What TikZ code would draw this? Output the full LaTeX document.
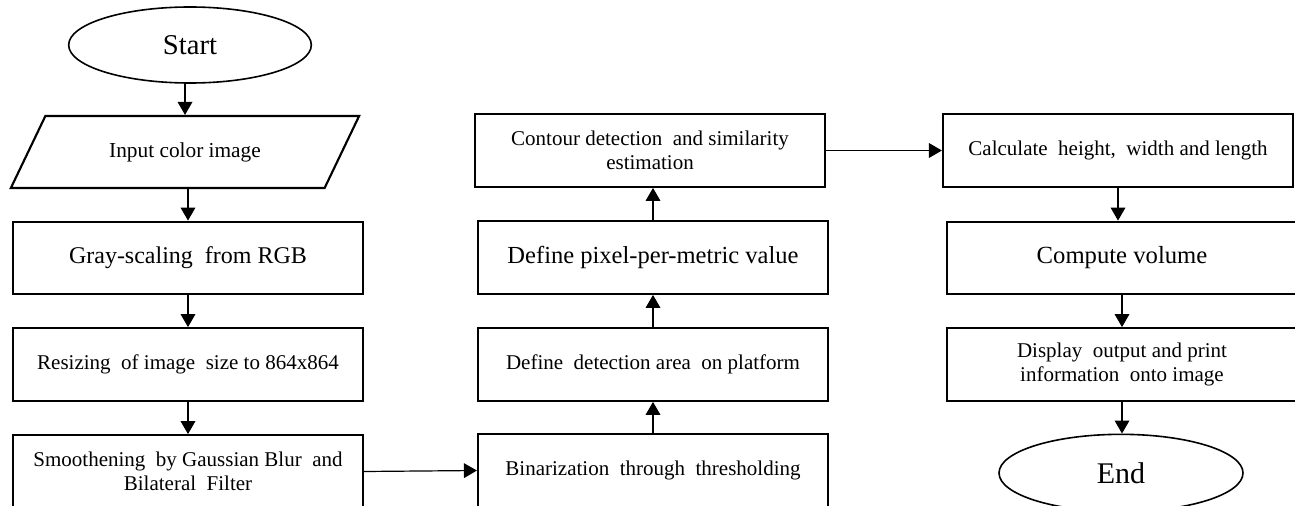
\documentclass[tikz,border=0pt]{standalone}
\usepackage{fontspec}
\setmainfont{Liberation Serif}
\usetikzlibrary{shapes.geometric,arrows.meta}
\begin{document}
\begin{tikzpicture}[x=0.75pt,y=-0.75pt,
  box/.style={draw,line width=1.6pt,rectangle,minimum width=262.5pt,minimum height=54.5pt,inner sep=0pt,align=center,font=\fontsize{15.75}{18}\selectfont},
  oval/.style={draw,line width=1.2pt,ellipse,inner sep=0pt,font=\fontsize{22.5}{24}\selectfont},
  arr/.style={line width=0.9pt,-{Triangle[length=9.75pt,width=11pt]}}]
\useasboundingbox (0,0) rectangle (1295,506);
\clip (0,0) rectangle (1295,506);
% column 1
\node[oval,minimum width=182pt,minimum height=57pt,font=\fontsize{21.5}{24}\selectfont] (start) at (190,45) {Start};
\node[draw,line width=1.6pt,trapezium,trapezium left angle=46,trapezium right angle=134,trapezium stretches=true,minimum width=261.75pt,minimum height=54pt,inner sep=0pt,font=\fontsize{16}{18}\selectfont] (input) at (185,152) {Input color image};
\node[box,font=\fontsize{18}{20}\selectfont] (gray) at (188,258) {Gray-scaling\ \ from RGB};
\node[box] (resize) at (188,364.5) {Resizing\ \ of image\ \ size to 864x864};
\node[box] (smooth) at (188,471.5) {Smoothening\ \ by Gaussian Blur\ \ and\\Bilateral\ \ Filter};
% column 2
\node[box] (contour) at (650,150.5) {Contour detection\ \ and similarity\\estimation};
\node[box,font=\fontsize{18.4}{21}\selectfont] (ppm) at (653,257.5) {Define pixel-per-metric value};
\node[box] (area) at (653,364.5) {Define\ \ detection area\ \ on platform};
\node[box] (binar) at (653,470.5) {Binarization\ \ through\ \ thresholding};
% column 3
\node[box] (calc) at (1118,150.5) {Calculate\ \ height,\ \ width and length};
\node[box,font=\fontsize{18.5}{21}\selectfont] (vol) at (1122,258) {Compute volume};
\node[box] (disp) at (1122,364.5) {Display\ \ output and print\\information\ \ onto image};
\node[oval,minimum width=183pt,minimum height=58pt] (end) at (1121,473) {End};
% connectors
\draw[arr] (start.south -| input.north) -- (input.north);
\draw[arr] (input.south -| gray.north) -- (gray.north);
\draw[arr] (gray.south) -- (resize.north);
\draw[arr] (resize.south) -- (smooth.north);
\draw[arr] (smooth.east) -- (binar.west);
\draw[arr] (binar.north) -- (area.south);
\draw[arr] (area.north) -- (ppm.south);
\draw[arr] (ppm.north) -- (ppm.north |- contour.south);
\draw[arr] (contour.east) -- (calc.west);
\draw[arr] (calc.south) -- (calc.south |- vol.north);
\draw[arr] (vol.south) -- (disp.north);
\draw[arr] (disp.south) -- (disp.south |- end.north);
\end{tikzpicture}
\end{document}
